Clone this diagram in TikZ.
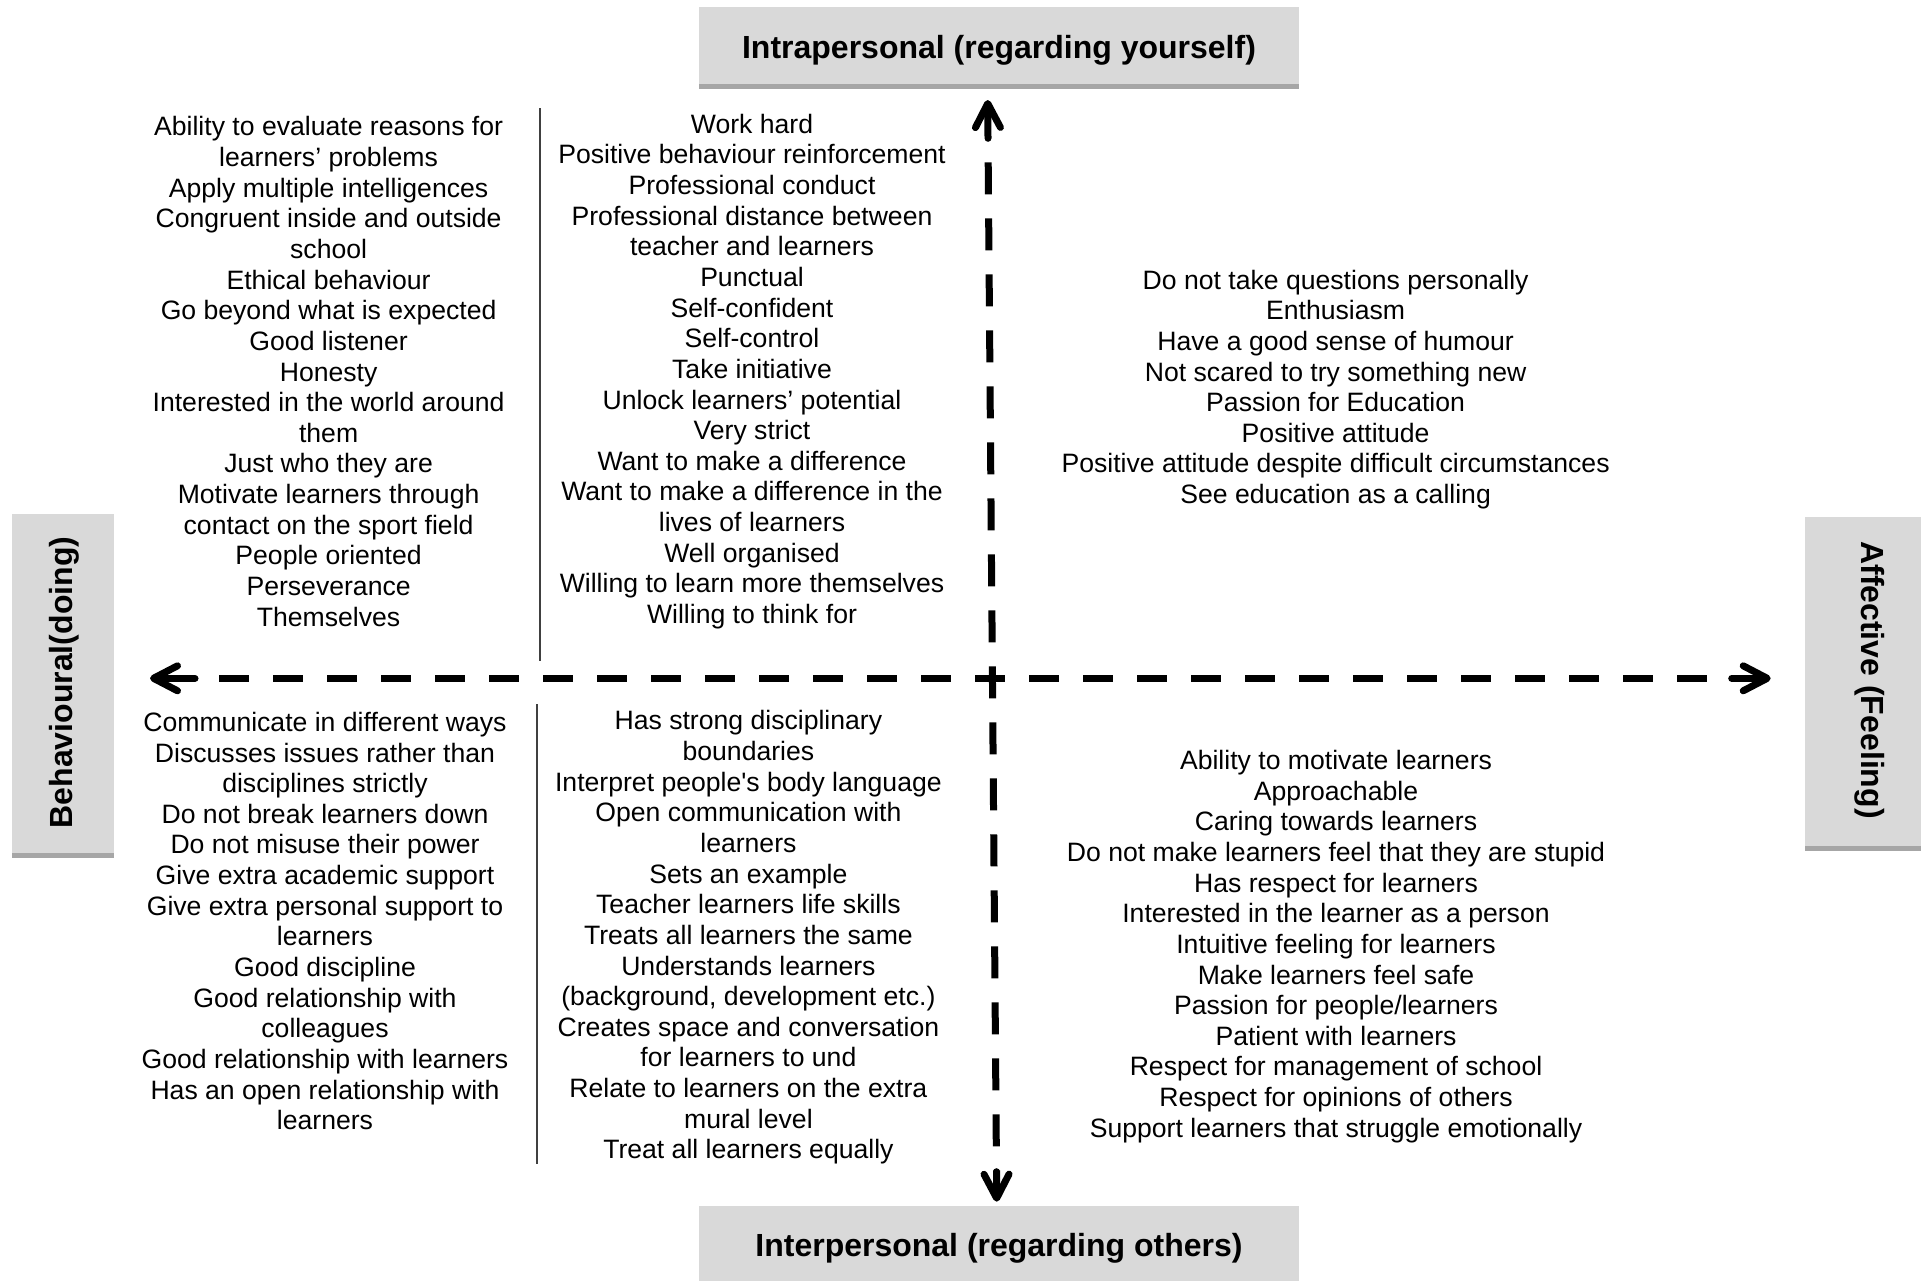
\documentclass[tikz,border=0pt]{standalone}
\usepackage{fontspec}
\newfontfamily\arialish{Liberation Sans}
\usetikzlibrary{arrows.meta}
\definecolor{boxgrey}{HTML}{D9D9D9}
\definecolor{boxshadow}{HTML}{A6A6A6}
\definecolor{rulegrey}{HTML}{404040}
\begin{document}
\begin{tikzpicture}[x=0.5pt,y=-0.5pt,
  item/.style={align=center, inner sep=0pt,
    font=\arialish\fontsize{13.3}{15.32}\selectfont},
  headbox/.style={fill=boxgrey, draw=none, inner sep=0pt},
  headtext/.style={inner sep=0pt,
    font=\arialish\bfseries\fontsize{16}{19}\selectfont},
  seprule/.style={draw=rulegrey, line width=0.7pt},
  axisline/.style={line width=3.5pt, black},
  axishead/.style={axisline, line cap=round,
    -{Straight Barb[length=12pt 0, width=12.5pt 0, round]}},
  hdash/.style={axisline, dash pattern=on 15pt off 12pt, dash phase=15pt},
  vdash/.style={axisline, dash pattern=on 16pt off 12pt, dash phase=16pt}
]
\useasboundingbox (0,0) rectangle (1930,1280);
\clip (0,0) rectangle (1930,1280);

% heading boxes with a darker strip along the bottom edge
\node[headbox, minimum width=300pt, minimum height=41pt] (topbox) at (999,48) {};
\fill[boxshadow] ([yshift=2.5pt]topbox.south west) rectangle (topbox.south east);
\node[headtext] (toplabel) at (999,50.5) {Intrapersonal (regarding yourself)};

\node[headbox, minimum width=300pt, minimum height=42pt] (botbox) at (999,1248) {};
\node[headtext] (botlabel) at (999,1248) {Interpersonal (regarding others)};

\node[headbox, minimum width=51pt, minimum height=172pt] (leftbox) at (63,686) {};
\fill[boxshadow] ([yshift=2.5pt]leftbox.south west) rectangle (leftbox.south east);
\node[headtext, rotate=90] (leftlabel) at (64,682.5) {Behavioural(doing)};

\node[headbox, minimum width=58pt, minimum height=167pt] (rightbox) at (1863,684) {};
\fill[boxshadow] ([yshift=2.5pt]rightbox.south west) rectangle (rightbox.south east);
\node[headtext, rotate=-90] (rightlabel) at (1870,680) {Affective (Feeling)};

% thin column separators
\coordinate (sepTa) at (540,108);
\coordinate (sepTb) at (540,661);
\coordinate (sepBa) at (537,704);
\coordinate (sepBb) at (537,1164);
\draw[seprule] (sepTa) -- (sepTb);
\draw[seprule] (sepBa) -- (sepBb);

% axes
\coordinate (vTipA) at (987.7,100);
\coordinate (vStubA) at (988.0,138.3);
\coordinate (vStubB) at (996.5,1171.7);
\coordinate (vTipB) at (996.7,1201.7);
\coordinate (hTipA) at (150,678.3);
\coordinate (hStubA) at (195,678.3);
\coordinate (hStubB) at (1731.7,678.3);
\coordinate (hTipB) at (1770.7,678.3);
\draw[vdash] (vStubA) -- (vStubB);
\draw[hdash] (hStubA) -- (hStubB);
\draw[axishead] (vStubA) -- (vTipA);
\draw[axishead] (vStubB) -- (vTipB);
\draw[axishead] (hStubA) -- (hTipA);
\draw[axishead] (hStubB) -- (hTipB);

% quadrant lists
\node[item] (tl) at (328.6,371.5) {Ability to evaluate reasons for\\ learners’ problems\\ Apply multiple intelligences\\ Congruent inside and outside\\ school\\ Ethical behaviour\\ Go beyond what is expected\\ Good listener\\ Honesty\\ Interested in the world around\\ them\\ Just who they are\\ Motivate learners through\\ contact on the sport field\\ People oriented\\ Perseverance\\ Themselves};

\node[item] (tc) at (752,371.5) {Work hard\\ Positive behaviour reinforcement\\ Professional conduct\\ Professional distance between\\ teacher and learners\\ Punctual\\ Self-confident\\ Self-control\\ Take initiative\\ Unlock learners’ potential\\ Very strict\\ Want to make a difference\\ Want to make a difference in the\\ lives of learners\\ Well organised\\ Willing to learn more themselves\\ Willing to think for};

\node[item] (tr) at (1335.6,389.5) {Do not take questions personally\\ Enthusiasm\\ Have a good sense of humour\\ Not scared to try something new\\ Passion for Education\\ Positive attitude\\ Positive attitude despite difficult circumstances\\ See education as a calling};

\node[item] (bl) at (325,921) {Communicate in different ways\\ Discusses issues rather than\\ disciplines strictly\\ Do not break learners down\\ Do not misuse their power\\ Give extra academic support\\ Give extra personal support to\\ learners\\ Good discipline\\ Good relationship with\\ colleagues\\ Good relationship with learners\\ Has an open relationship with\\ learners};

\node[item] (bc) at (748.4,937.5) {Has strong disciplinary\\ boundaries\\ Interpret people's body language\\ Open communication with\\ learners\\ Sets an example\\ Teacher learners life skills\\ Treats all learners the same\\ Understands learners\\ (background, development etc.)\\ Creates space and conversation\\ for learners to und\\ Relate to learners on the extra\\ mural level\\ Treat all learners equally};

\node[item] (br) at (1336,946.5) {Ability to motivate learners\\ Approachable\\ Caring towards learners\\ Do not make learners feel that they are stupid\\ Has respect for learners\\ Interested in the learner as a person\\ Intuitive feeling for learners\\ Make learners feel safe\\ Passion for people/learners\\ Patient with learners\\ Respect for management of school\\ Respect for opinions of others\\ Support learners that struggle emotionally};
\end{tikzpicture}
\end{document}
